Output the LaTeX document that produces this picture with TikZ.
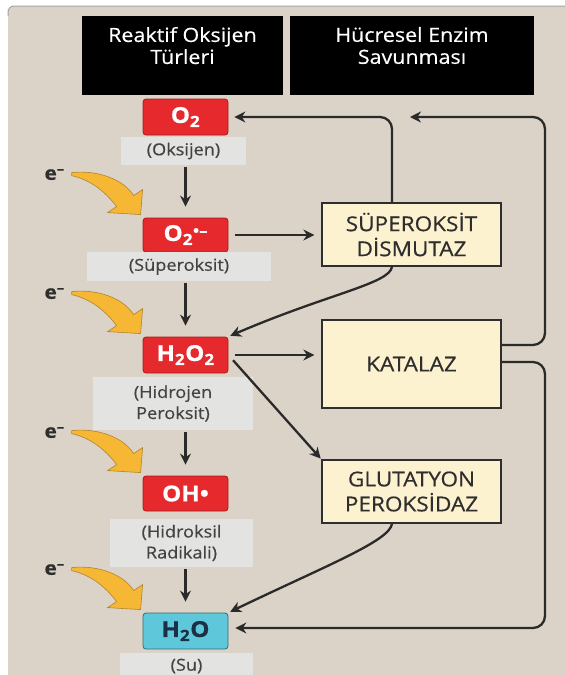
\documentclass[tikz,border=0pt]{standalone}
\usepackage{fontspec}
\setmainfont{Open Sans}[FakeStretch=1.1, FakeBold=0.5]
\usetikzlibrary{arrows.meta}
\definecolor{panel}{HTML}{DBD3C7}
\definecolor{rosred}{HTML}{E5292C}
\definecolor{rosline}{HTML}{A81C1E}
\definecolor{waterblue}{HTML}{5EC7DA}
\definecolor{waterline}{HTML}{2F6D77}
\definecolor{watertext}{HTML}{1B2F45}
\definecolor{lblgray}{HTML}{E3E3E1}
\definecolor{lbltext}{HTML}{434343}
\definecolor{enzfill}{HTML}{FDF2D0}
\definecolor{enzline}{HTML}{2E2E2E}
\definecolor{conline}{HTML}{2A2A2A}
\definecolor{yfill}{HTML}{F6B734}
\definecolor{yline}{HTML}{B08430}
\begin{document}
\begin{tikzpicture}
    [x=1pt,y=-1pt,>={Stealth[length=11pt,width=11pt]},
     every node/.style={inner sep=0pt},
     ros/.style={draw=rosline, fill=rosred, line width=0.8pt, rounded corners=3pt,
       minimum width=85pt, minimum height=36pt, text=white, font=\bfseries\fontsize{22}{22}\selectfont},
     water/.style={ros, draw=waterline, fill=waterblue, text=watertext},
     lbl/.style={fill=lblgray, align=center, text=lbltext, font=\fontsize{16.5}{21}\selectfont},
     enz/.style={draw=enzline, fill=enzfill, line width=1.3pt, minimum width=179pt,
       align=center, text=enzline, font=\fontsize{20.5}{25}\selectfont},
     hdr/.style={fill=black, minimum height=79pt},
     htxt/.style={anchor=north, align=center, text=white, font=\fontsize{19.5}{22}\selectfont},
     elec/.style={text=enzline, font=\bfseries\fontsize{19}{19}\selectfont},
     con/.style={draw=conline, line width=2.3pt},
     yarrow/.style={fill=yfill, draw=yline, line width=0.6pt}]
  \useasboundingbox (0,0) rectangle (565,675);
  \fill[white] (0,0) rectangle (565,675);
  \fill[panel, rounded corners=6pt] (8,6) rectangle (580,690);
  \draw[gray!70, line width=1pt, rounded corners=6pt] (8,16) -- (8,6) -- (580,6);

  % headers
  \node[hdr, minimum width=201pt] (hros) at (182.5,55.5) {};
  \node[htxt] (tros) at ([yshift=-11pt]hros.north) {Reaktif Oksijen\\Türleri};
  \node[hdr, minimum width=244pt] (henz) at (412,55.5) {};
  \node[htxt] (tenz) at ([yshift=-11pt]henz.north) {Hücresel Enzim\\Savunması};

  % species
  \node[ros] (o2) at (185.5,117) {O\textsubscript{2}};
  \node[ros, minimum height=34pt] (sup) at (185.5,235) {O\textsubscript{2}\raisebox{5pt}{\fontsize{15}{15}\selectfont\textbullet–}};
  \node[ros] (hp) at (185.5,355) {H\textsubscript{2}O\textsubscript{2}};
  \node[ros, minimum height=35pt] (oh) at (185.5,493.5) {OH\textbullet};
  \node[water] (su) at (185.5,631) {H\textsubscript{2}O};

  \node[lbl, minimum width=125pt, minimum height=28pt] (loks) at (183.5,151) {(Oksijen)};
  \node[lbl, minimum width=184pt, minimum height=29pt] (lsup) at (179,266.5) {(Süperoksit)};
  \node[lbl, minimum width=160pt, minimum height=53pt] (lhp) at (173,403.5) {(Hidrojen\\Peroksit)};
  \node[lbl, minimum width=143pt, minimum height=48pt] (loh) at (181.5,543) {(Hidroksil\\Radikali)};
  \node[lbl, minimum width=133pt, minimum height=26pt] (lsu) at (186.5,666) {(Su)};

  % enzymes
  \node[enz, minimum height=63pt] (sod) at (411.5,234.5) {SÜPEROKSİT\\DİSMUTAZ};
  \node[enz, minimum height=88pt] (kat) at (411.5,364) {KATALAZ};
  \node[enz, minimum height=63pt] (gpx) at (411.5,491.5) {GLUTATYON\\PEROKSİDAZ};

  \coordinate (ktop) at (410,117);
  \coordinate (rtop) at (545,117);
  \coordinate (rbot) at (545,628);

  % electrons
  \foreach \b in {sup,hp,oh,su}{
    \begin{scope}[shift={(\b.north west)}]
      \node[elec] (e\b) at (-88,-43) {e\textsuperscript{–}};
      \filldraw[yarrow] (-71,-45) .. controls (-43,-48) and (-18,-37) .. (-9,-22)
        -- (0,-28) -- (-2,-3) -- (-35,-5) -- (-26,-11)
        .. controls (-38,-27) and (-53,-38) .. (-71,-42) -- cycle;
    \end{scope}
  }

  \foreach \from/\to in {loks/sup, lsup/hp, lhp/oh, loh/su}
    \draw[con, ->, shorten <=2pt, shorten >=11pt] (\from.south -| \to.north) -- (\to.north);

  \draw[con, ->, shorten <=7pt, shorten >=7pt] (sup.east) -- (sup.east -| sod.west);
  \draw[con, ->, shorten <=7pt, shorten >=7pt] (hp.east) -- (hp.east -| kat.west);
  \draw[con, ->, shorten <=7pt, shorten >=1pt] (hp.east) -- (gpx.north west);
  \draw[con, ->, rounded corners=12pt, shorten >=6pt] ([xshift=-19.5pt]sod.north) |- (o2.east);
  \draw[con, ->, shorten >=2pt] ([xshift=-19.5pt]sod.south) .. controls +(-2,17) and +(100,-43) .. (hp.north east);
  \draw[con, ->, shorten >=2pt] ([xshift=-19.5pt]gpx.south) .. controls +(-2,17) and +(100,-48) .. (su.north east);
  \draw[con, ->, rounded corners=12pt] ([yshift=19pt]kat.east) -| (rtop) -- (ktop);
  \draw[con, ->, rounded corners=12pt, shorten >=7pt] ([yshift=2pt]kat.east) -| (rbot) -- ([yshift=3pt]su.east);
\end{tikzpicture}
\end{document}
